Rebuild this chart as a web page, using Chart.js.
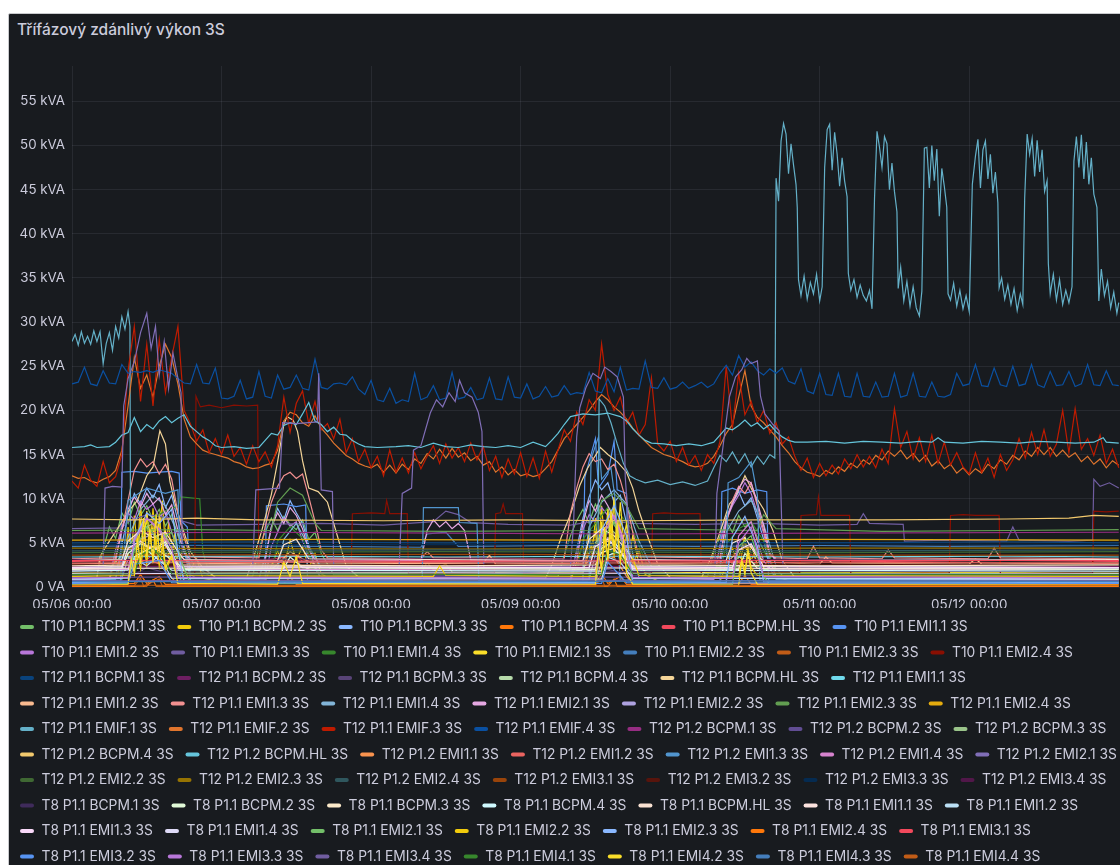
<!DOCTYPE html>
<html>
<head>
<meta charset="utf-8">
<script src="https://cdn.jsdelivr.net/npm/chart.js@4.4.1/dist/chart.umd.min.js"></script>
<style>
  html, body { margin: 0; padding: 0; width: 1120px; height: 865px; overflow: hidden; background: #fff; }
  .panel { position: absolute; left: 8px; top: 13px; width: 1150px; height: 900px; box-sizing: border-box;
           background: #181b1f; border: 1px solid #c9cacd; border-radius: 2px; }
  .title { position: absolute; left: 17px; top: 21px; font: 500 15.5px Inter, "Noto Sans", sans-serif;
           line-height: 18px; color: #ccccdc; white-space: nowrap; }
  #chart { position: absolute; left: 8px; top: 13px; }
</style>
</head>
<body>
<div class="panel"></div>
<div class="title">Třífázový zdánlivý výkon 3S</div>
<canvas id="chart" width="1112" height="860"></canvas>
<script>
// x values are hours from 05/06 00:00, y values are kVA

const names = [
  'T10 P1.1 BCPM.1 3S', 'T10 P1.1 BCPM.2 3S', 'T10 P1.1 BCPM.3 3S', 'T10 P1.1 BCPM.4 3S', 'T10 P1.1 BCPM.HL 3S',
  'T10 P1.1 EMI1.1 3S', 'T10 P1.1 EMI1.2 3S', 'T10 P1.1 EMI1.3 3S', 'T10 P1.1 EMI1.4 3S', 'T10 P1.1 EMI2.1 3S',
  'T10 P1.1 EMI2.2 3S', 'T10 P1.1 EMI2.3 3S', 'T10 P1.1 EMI2.4 3S',
  'T12 P1.1 BCPM.1 3S', 'T12 P1.1 BCPM.2 3S', 'T12 P1.1 BCPM.3 3S', 'T12 P1.1 BCPM.4 3S', 'T12 P1.1 BCPM.HL 3S',
  'T12 P1.1 EMI1.1 3S', 'T12 P1.1 EMI1.2 3S', 'T12 P1.1 EMI1.3 3S', 'T12 P1.1 EMI1.4 3S', 'T12 P1.1 EMI2.1 3S',
  'T12 P1.1 EMI2.2 3S', 'T12 P1.1 EMI2.3 3S', 'T12 P1.1 EMI2.4 3S', 'T12 P1.1 EMIF.1 3S', 'T12 P1.1 EMIF.2 3S',
  'T12 P1.1 EMIF.3 3S', 'T12 P1.1 EMIF.4 3S',
  'T12 P1.2 BCPM.1 3S', 'T12 P1.2 BCPM.2 3S', 'T12 P1.2 BCPM.3 3S', 'T12 P1.2 BCPM.4 3S', 'T12 P1.2 BCPM.HL 3S',
  'T12 P1.2 EMI1.1 3S', 'T12 P1.2 EMI1.2 3S', 'T12 P1.2 EMI1.3 3S', 'T12 P1.2 EMI1.4 3S', 'T12 P1.2 EMI2.1 3S',
  'T12 P1.2 EMI2.2 3S', 'T12 P1.2 EMI2.3 3S', 'T12 P1.2 EMI2.4 3S', 'T12 P1.2 EMI3.1 3S', 'T12 P1.2 EMI3.2 3S',
  'T12 P1.2 EMI3.3 3S', 'T12 P1.2 EMI3.4 3S',
  'T8 P1.1 BCPM.1 3S', 'T8 P1.1 BCPM.2 3S', 'T8 P1.1 BCPM.3 3S', 'T8 P1.1 BCPM.4 3S', 'T8 P1.1 BCPM.HL 3S',
  'T8 P1.1 EMI1.1 3S', 'T8 P1.1 EMI1.2 3S', 'T8 P1.1 EMI1.3 3S', 'T8 P1.1 EMI1.4 3S', 'T8 P1.1 EMI2.1 3S',
  'T8 P1.1 EMI2.2 3S', 'T8 P1.1 EMI2.3 3S', 'T8 P1.1 EMI2.4 3S', 'T8 P1.1 EMI3.1 3S', 'T8 P1.1 EMI3.2 3S',
  'T8 P1.1 EMI3.3 3S', 'T8 P1.1 EMI3.4 3S', 'T8 P1.1 EMI4.1 3S', 'T8 P1.1 EMI4.2 3S', 'T8 P1.1 EMI4.3 3S',
  'T8 P1.1 EMI4.4 3S'
];

// grafana classic palette, repeats after 56 series
const palette = [
  '#73BF69', '#F2CC0C', '#8AB8FF', '#FF780A', '#F2495C', '#5794F2', '#B877D9', '#705DA0', '#37872D', '#FADE2A',
  '#447EBC', '#C15C17', '#890F02', '#0A437C', '#6D1F62', '#584477', '#B7DBAB', '#F4D598', '#70DBED', '#F9BA8F',
  '#F29191', '#82B5D8', '#E5A8E2', '#AEA2E0', '#629E51', '#E5AC0E', '#64B0C8', '#E0752D', '#BF1B00', '#0A50A1',
  '#962D82', '#614D93', '#9AC48A', '#F2C96D', '#65C5DB', '#F9934E', '#EA6460', '#5195CE', '#D683CE', '#806EB7',
  '#3F6833', '#967302', '#2F575E', '#99440A', '#58140C', '#052B51', '#511749', '#3F2B5B', '#E0F9D7', '#FCEACA',
  '#CFFAFF', '#F9E2D2', '#FCE2DE', '#BADFF4', '#F9D9F9', '#DEDAF7'
];

const dayTicks = [0, 24, 48, 72, 96, 120, 144];
const dayLabels = ['05/06 00:00', '05/07 00:00', '05/08 00:00', '05/09 00:00', '05/10 00:00', '05/11 00:00', '05/12 00:00'];
const kvaTicks = [0, 5, 10, 15, 20, 25, 30, 35, 40, 45, 50, 55];

// ---- T10 P1.1 ----  (flat [hour, kVA, hour, kVA, ...])
const t10_bcpm1 = [0,1.2, 4,1.3, 5,4.2, 6,6.8, 7,5.5, 8,8.4, 9,7.2, 10,9.6, 11,8.1, 12,9.2, 13,7.6, 14,8.8, 15,6.9, 16,8.2, 17,5.8, 18,4.1, 20,2.2, 22,1.3, 29,1.2, 30,4.5, 31,6.2, 32,7.8, 33,6.4, 34,8.0, 35,7.1, 36,6.5, 37,7.6, 38,5.4, 39,6.2, 40,3.8, 42,1.4, 78,1.2, 79,3.6, 80,5.8, 81,7.5, 82,8.8, 83,7.2, 84,9.4, 85,8.1, 86,8.9, 87,7.0, 88,6.2, 89,4.5, 91,2.0, 93,1.3, 102,1.2, 103,3.9, 104,5.7, 105,7.4, 106,6.2, 107,8.1, 108,6.8, 109,7.3, 110,5.6, 111,4.2, 112,2.8, 114,1.3, 168,1.2];
const t10_bcpm2 = [0,0.6, 6,0.7, 7,3.5, 7.5,1.8, 8,5.2, 8.5,2.6, 9,6.8, 9.5,3.4, 10,8.1, 10.5,4.2, 11,9.4, 11.5,5.0, 12,7.6, 12.5,3.8, 13,8.9, 13.5,4.6, 14,6.2, 14.5,9.8, 15,4.4, 15.5,7.2, 16,3.6, 16.5,6.0, 17,2.8, 18,4.6, 19,1.9, 20,3.2, 21,1.0, 23,0.7, 31,0.6, 32,2.4, 33,4.1, 34,2.2, 35,5.3, 36,3.0, 37,4.6, 38,2.1, 39,3.8, 40,1.5, 42,0.7, 80,0.6, 81,2.8, 82,4.9, 82.5,2.6, 83,6.4, 83.5,3.5, 84,7.8, 84.5,4.1, 85,9.2, 85.5,5.0, 86,8.0, 86.5,4.4, 87,10.1, 87.5,5.6, 88,7.4, 88.5,3.2, 89,6.1, 90,2.5, 91,4.2, 92,1.4, 94,0.7, 104,0.6, 105,2.6, 106,4.4, 107,2.3, 108,5.2, 109,3.0, 110,4.6, 111,2.2, 112,3.4, 113,1.2, 115,0.7, 168,0.6];
const t10_bcpm3 = [0,0.8, 7,0.9, 8,4.8, 9,8.2, 10,10.6, 11,9.4, 12,11.2, 13,10.1, 14,11.6, 15,9.0, 16,10.4, 17,7.5, 18,4.2, 19,1.0, 30,0.9, 31,3.5, 32,6.8, 33,8.9, 34,7.6, 35,9.8, 36,8.4, 37,7.2, 38,4.8, 39,2.2, 40,0.9, 80,0.8, 81,4.2, 82,7.8, 83,10.2, 84,12.1, 85,11.0, 86,11.8, 87,9.6, 88,10.4, 89,7.2, 90,3.8, 91,1.0, 103,0.9, 104,4.6, 105,7.9, 106,9.5, 107,10.8, 108,9.2, 109,10.1, 110,7.8, 111,5.4, 112,2.1, 113,0.9, 168,0.8];
const t10_bcpm4 = [0,0.3, 10,0.4, 11,1.4, 12,0.4, 14,1.2, 15,0.3, 34,0.4, 35,1.1, 36,0.3, 60,0.3, 84,0.4, 85,1.5, 86,0.4, 88,1.2, 89,0.3, 107,0.4, 108,1.3, 109,0.3, 168,0.3];
const t10_bcpmHL = [0,2.9, 12,3.0, 13,3.8, 14,3.0, 30,2.9, 36,3.6, 37,2.9, 60,3.0, 84,2.9, 85,4.1, 86,3.0, 108,2.9, 109,3.7, 110,3.0, 130,2.9, 150,3.0, 168,2.9];
const t10_emi11 = [0,0.6, 7.8,0.7, 8,13.0, 10,13.1, 12,12.9, 14,13.0, 16,13.1, 17.2,12.9, 17.5,7.5, 18.5,6.8, 19,0.7, 31,0.6, 31.2,9.2, 34,9.4, 36,9.1, 37.5,9.3, 37.8,0.7, 82,0.6, 82.3,12.4, 84,16.8, 84.5,11.2, 86,12.8, 87,16.5, 87.5,11.0, 89,10.6, 89.3,0.7, 104,0.6, 104.3,10.8, 106,11.2, 108,10.6, 110,11.0, 111.5,10.8, 111.8,0.7, 168,0.6];
const t10_emi12 = [0,0.9, 6,1.0, 7,4.2, 8,6.8, 9,8.4, 10,7.6, 11,9.7, 12,8.8, 13,9.4, 14,7.9, 15,8.6, 16,6.2, 17,4.0, 18,1.8, 20,1.0, 31,0.9, 32,4.6, 33,6.2, 34,7.8, 35,6.9, 36,7.4, 37,5.2, 38,3.6, 40,1.0, 80,0.9, 81,4.0, 82,6.5, 83,8.2, 84,7.4, 85,9.0, 86,8.1, 87,7.5, 88,5.6, 89,3.2, 90,1.0, 103,0.9, 104,4.8, 105,7.6, 106,9.2, 107,10.4, 108,11.8, 109,10.6, 110,8.4, 111,6.1, 112,3.0, 113,1.0, 168,0.9];
const t10_emi13 = [0,6.6, 8,6.7, 9,7.4, 12,8.2, 16,7.8, 20,7.0, 30,7.1, 40,7.2, 50,7.0, 58,7.4, 60,8.6, 62,8.2, 64,7.3, 70,7.1, 80,7.0, 85,7.6, 90,7.2, 100,7.1, 110,7.2, 120,7.0, 126,7.1, 127,8.3, 128,7.2, 133.4,7.1, 133.6,5.2, 140,5.3, 150,5.2, 151,6.8, 152,5.3, 160,5.2, 163.8,5.3, 164,12.2, 165,11.4, 166.5,11.8, 168,11.2];
const t10_emi14 = [0,1.5, 8,1.6, 9,4.5, 11,6.2, 13,7.8, 15,8.6, 17,9.2, 17.5,10.2, 20.5,10.0, 21,4.0, 22,1.6, 32,1.5, 33,5.2, 35,6.8, 37,5.5, 39,2.0, 40,1.5, 81,1.6, 82,5.4, 84,7.2, 86,9.0, 88,8.2, 90,6.4, 92,3.0, 93,1.6, 104,1.5, 105,4.8, 107,6.6, 109,7.4, 111,5.2, 113,1.6, 168,1.5];
const t10_emi21 = [0,1.6, 8,1.7, 9,3.8, 9.5,2.4, 10,5.6, 10.5,3.2, 11,7.4, 11.5,4.6, 12,8.6, 12.5,5.2, 13,6.8, 13.5,3.9, 14,7.9, 14.5,4.8, 15,6.4, 15.5,3.4, 16,5.2, 17,2.6, 18,1.7, 56,1.6, 57,2.8, 58,1.9, 60,2.6, 61,1.7, 82,1.6, 83,3.9, 84,6.2, 84.5,3.5, 85,7.4, 85.5,4.2, 86,8.8, 86.5,5.0, 87,10.2, 87.5,4.6, 88,9.6, 88.5,5.4, 89,7.2, 89.5,3.6, 90,5.8, 91,2.6, 92,1.7, 106,1.6, 107,3.4, 108,5.6, 108.5,2.8, 109,4.8, 110,2.5, 111,1.7, 168,1.6];
const t10_emi22 = [0,4.6, 20,4.7, 40,4.6, 56,4.5, 57,6.0, 60,6.2, 62,4.6, 80,4.7, 100,4.6, 120,4.7, 140,4.6, 168,4.7];
const t10_emi23 = [0,0.1, 10,0.15, 11,1.0, 11.5,0.1, 14,0.9, 14.5,0.1, 84,0.15, 85,1.1, 85.5,0.1, 168,0.1];
const t10_emi24 = [0,1.4, 19.7,1.5, 19.9,21.6, 20.6,20.4, 22,20.6, 24,20.3, 26,20.6, 28,20.5, 29.8,20.6, 30,1.5, 44.8,1.6, 45,8.3, 48,8.4, 50.2,8.3, 50.5,9.8, 51,8.3, 53.8,8.3, 54,1.5, 67.8,1.6, 68,8.3, 68.8,8.4, 69.2,9.4, 69.6,8.3, 72.3,8.3, 72.5,1.5, 93,1.6, 93.2,8.3, 95,8.4, 97,8.3, 100.8,8.3, 101,1.5, 116.8,1.6, 117,8.1, 119.5,8.2, 119.8,10.2, 120.2,8.1, 124.8,8.1, 125,1.5, 140.8,1.6, 141,8.1, 143,8.2, 145,8.1, 148.8,8.1, 149,1.5, 163.8,1.6, 164,8.6, 166,8.5, 168,8.6];

// ---- T12 P1.1 ----
const t12a_bcpm1 = [0,5.0, 30,5.1, 60,5.0, 90,5.1, 120,5.0, 150,5.1, 168,5.0];
const t12a_bcpm2 = [0,2.3, 40,2.4, 80,2.3, 120,2.4, 168,2.3];
const t12a_bcpm3 = [0,1.3, 10,1.4, 12,2.2, 16,1.4, 60,1.3, 86,2.0, 90,1.3, 168,1.3];
const t12a_bcpm4 = [0,2.0, 6,2.1, 8,3.6, 10,4.2, 12,3.4, 14,4.5, 16,3.2, 18,2.1, 32,2.0, 34,3.2, 36,2.8, 38,2.0, 82,2.1, 84,4.0, 86,3.5, 88,4.3, 90,2.2, 105,2.0, 107,3.4, 109,2.9, 111,2.0, 168,2.1];
const t12a_bcpmHL = [0,1.0, 4,1.1, 4.5,3.5, 6,5.2, 7.5,6.8, 9,8.5, 10.5,9.8, 12,12.6, 13,13.6, 14.1,17.7, 15,16.2, 15.7,12.0, 16.5,9.6, 17.5,7.2, 19,4.0, 21,2.2, 23,1.1, 28,1.0, 29,3.0, 30.5,6.5, 32,10.5, 33,14.2, 34,18.4, 34.5,19.3, 35.5,18.9, 36.2,17.6, 37,14.3, 38,11.2, 39.5,10.8, 41,9.6, 42.5,6.0, 44,2.4, 46,1.1, 76,1.0, 77,2.5, 78.5,5.6, 80,8.2, 81.5,11.5, 82.7,13.4, 84.8,15.8, 86,15.0, 87.5,14.2, 89,13.0, 90,11.2, 91,8.6, 92.5,5.5, 94,2.6, 96,1.1, 101,1.0, 102.5,3.2, 104,6.2, 105.5,9.4, 106.5,10.2, 108,12.6, 109.5,10.5, 111,8.8, 112.5,6.4, 114,3.0, 116,1.1, 168,1.0];
const t12a_emi11 = [0,3.4, 30,3.5, 60,3.4, 90,3.5, 120,3.4, 150,3.5, 168,3.4];
const t12a_emi12 = [0,2.6, 8,2.7, 9,4.2, 11,5.1, 13,4.4, 15,5.3, 17,3.6, 19,2.7, 33,2.6, 35,4.0, 37,3.2, 39,2.6, 66,2.7, 67,3.6, 68,2.6, 82,2.7, 84,4.8, 86,5.2, 88,4.1, 90,2.7, 105,2.6, 107,4.2, 109,4.6, 111,2.8, 120,2.6, 121,3.4, 122,2.7, 144,2.6, 145,3.2, 146,2.6, 168,2.7];
const t12a_emi13 = [0,3.2, 7,3.3, 8,6.5, 9,9.8, 10,13.2, 11,14.5, 12,13.6, 13,14.2, 14,12.8, 15,13.9, 16,12.2, 17,8.4, 18,5.6, 19,3.4, 30,3.3, 31,6.8, 32,9.6, 33,11.4, 34,12.6, 35,13.0, 36,12.3, 37,12.8, 38,10.2, 39,7.4, 40,4.2, 41,3.3, 56,3.2, 57,4.0, 58,3.3, 79,3.2, 80,8.4, 81,11.2, 82,13.6, 83,15.1, 84,14.2, 85,14.5, 86,13.3, 87,13.9, 88,12.1, 89,9.6, 90,6.2, 91,3.4, 104,3.3, 105,7.2, 106,9.8, 107,11.4, 108,10.6, 109,11.8, 110,9.2, 111,6.4, 112,3.6, 113,3.3, 118,3.2, 119,4.6, 120,3.3, 130,3.2, 131,4.2, 132,3.3, 147,3.2, 148,4.4, 149,3.3, 168,3.2];
const t12a_emi14 = [0,2.1, 8,2.2, 9,5.6, 11,8.8, 13,10.4, 15,9.2, 17,6.0, 19,2.3, 33,2.1, 34,5.4, 36,7.2, 38,4.6, 40,2.2, 82,2.1, 83,6.8, 85,9.6, 87,11.0, 89,9.4, 91,5.2, 93,2.3, 104,2.2, 105,6.2, 107,8.6, 109,9.8, 111,7.1, 113,2.4, 168,2.1];
const t12a_emi21 = [0,3.0, 7,3.1, 8,6.4, 9,8.8, 10,10.2, 11,9.1, 12,10.6, 13,9.4, 14,10.1, 15,8.2, 16,9.3, 17,6.4, 18,3.8, 19,3.1, 31,3.0, 32,6.8, 33,8.4, 34,7.2, 35,9.0, 36,8.1, 37,6.6, 38,4.2, 39,3.1, 56,3.0, 57,6.4, 58,7.6, 59,6.8, 60,7.4, 61,6.6, 62,7.2, 63,6.4, 64,3.1, 81,3.0, 82,7.2, 83,9.8, 84,8.6, 85,10.4, 86,9.2, 87,7.8, 88,6.4, 89,4.0, 90,3.1, 104,3.0, 105,7.6, 106,9.4, 107,11.2, 108,12.2, 109,11.8, 110,9.6, 111,7.0, 112,3.8, 113,3.1, 168,3.0];
const t12a_emi22 = [0,0.9, 8,1.0, 9,3.2, 11,5.4, 13,6.0, 15,4.8, 17,2.4, 18,1.0, 83,0.9, 84,3.6, 86,5.6, 88,4.4, 90,1.0, 168,0.9];
const t12a_emi23 = [0,6.4, 20,6.5, 32,6.4, 33,9.6, 35,11.2, 37,10.4, 39,7.2, 40,6.4, 60,6.3, 84,6.4, 85,9.8, 87,10.6, 89,9.2, 91,6.6, 110,6.4, 111,8.2, 113,6.6, 130,6.3, 150,6.4, 168,6.5];
const t12a_emi24 = [0,5.3, 40,5.4, 80,5.3, 120,5.4, 168,5.3];
const t12a_emif1 = [0,27.8, 0.5,28.6, 1,27.4, 1.5,28.9, 2,27.6, 2.5,28.4, 3,27.5, 3.5,29.0, 4,27.8, 4.5,28.9, 5,25.3, 5.5,27.6, 6,28.8, 6.5,26.8, 7,29.5, 7.5,28.2, 8,30.6, 8.5,29.2, 9,31.2, 9.3,29.5, 9.4,2.8, 30,2.9, 60,2.8, 84.4,2.9, 84.6,21.3, 85.5,20.5, 86.5,18.6, 87.5,16.2, 88.5,14.0, 89.5,12.6, 90.5,12.2, 92,11.8, 94,12.1, 96,11.6, 98,11.9, 100,11.5, 102,12.0, 103,13.5, 104,14.9, 105,14.2, 106,15.3, 107,14.0, 108,15.1, 109,13.6, 110,14.8, 111,13.9, 112,15.0, 112.8,14.6, 113.0,46.3, 113.4,43.7, 113.8,50.5, 114.2,52.5, 114.6,51.3, 115,46.8, 115.4,50.2, 115.8,47.8, 116.2,45.6, 116.4,43.0, 116.6,34.8, 117,33.0, 117.5,35.2, 118,32.6, 118.5,34.5, 119,33.2, 119.5,35.4, 120,32.4, 120.4,34.0, 120.8,47.5, 121.2,51.8, 121.6,52.4, 122,47.2, 122.4,51.5, 122.8,49.0, 123.2,45.4, 123.6,48.6, 124,46.0, 124.4,44.2, 124.6,35.5, 125,33.6, 125.5,34.8, 126,32.8, 126.5,34.2, 127,33.0, 127.5,32.4, 128,33.6, 128.4,31.5, 128.8,44.0, 129.2,51.6, 129.6,49.8, 130,47.5, 130.4,51.0, 130.8,50.2, 131.2,45.0, 131.6,48.0, 132,44.8, 132.4,42.5, 132.6,33.8, 133,36.2, 133.5,32.4, 134,34.6, 134.5,31.8, 135,34.0, 135.5,31.6, 136,30.7, 136.4,33.5, 136.8,49.7, 137.2,49.8, 137.6,45.2, 138,50.0, 138.4,46.0, 138.8,49.6, 139.2,42.0, 139.6,47.4, 140,45.4, 140.4,43.0, 140.6,33.2, 141,32.5, 141.5,34.4, 142,31.8, 142.5,33.6, 143,31.5, 143.5,33.0, 144,31.2, 144.5,45.6, 145,48.8, 145.4,50.7, 145.8,45.2, 146.2,49.5, 146.6,50.5, 147,46.2, 147.4,49.0, 147.8,44.6, 148.2,47.0, 148.6,43.5, 148.8,33.9, 149.2,35.0, 149.7,32.6, 150.2,34.2, 150.7,32.0, 151.2,33.8, 151.7,31.3, 152.2,33.2, 152.6,32.0, 152.9,44.0, 153.3,51.3, 153.7,49.0, 154.1,50.8, 154.5,46.5, 154.9,50.6, 155.3,47.0, 155.7,49.5, 156.1,44.8, 156.5,46.0, 156.7,36.6, 157,33.2, 157.5,35.4, 158,32.5, 158.5,34.8, 159,32.0, 159.5,33.6, 160,32.2, 160.5,34.0, 160.8,48.2, 161.2,51.0, 161.6,47.5, 162,51.2, 162.4,46.2, 162.8,50.4, 163.2,45.6, 163.6,48.6, 164,44.5, 164.5,43.0, 164.8,32.4, 165.2,36.0, 165.7,33.0, 166.2,34.6, 166.7,31.6, 167.2,33.4, 167.7,31.0, 168,32.2];
// hourly readings, hour 0..168
const t12a_emif2 = [
  12.6,12.3,12.4,12.0,11.8,12.2,12.5,13.2,15.5,20.5,26.0,22.5,24.0,21.5,25.0,27.5,26.0,23.0,19.0,17.0,16.2,15.5,15.2,15.0,
  14.8,14.6,14.2,14.0,13.6,13.4,13.5,13.8,14.0,15.5,18.8,19.8,19.5,18.6,18.2,19.4,18.0,17.2,16.3,15.6,14.9,14.5,14.0,13.7,
  13.5,13.9,13.0,13.8,12.9,13.9,13.3,14.5,14.0,15.1,14.5,15.6,14.6,15.7,14.7,15.2,14.3,14.8,13.8,14.2,13.0,13.6,12.7,13.3,
  12.6,12.8,12.5,12.7,13.4,14.2,15.5,16.8,17.6,18.4,19.2,20.0,21.0,21.8,21.2,20.4,19.8,19.0,18.0,17.2,16.5,15.8,15.4,15.0,
  14.8,14.5,14.2,13.8,13.6,13.7,14.0,14.8,16.0,17.4,18.4,21.5,24.5,20.5,19.2,18.6,17.8,17.0,16.0,15.2,14.2,13.5,13.0,12.8,
  12.5,13.2,12.8,13.6,13.1,14.0,13.5,14.4,13.9,14.9,14.4,15.4,14.8,15.5,14.5,15.1,14.2,14.9,13.7,14.3,13.4,13.9,12.9,13.5,
  12.7,13.4,12.9,13.9,13.4,14.4,13.9,14.9,14.4,15.4,14.8,15.8,15.0,15.8,14.8,15.5,14.7,15.2,14.2,14.8,13.9,14.5,13.5,14.3,
  13.8
];
const t12a_emif3 = [
  12.0,11.2,13.8,12.1,11.4,14.2,11.8,12.5,15.0,24.5,29.5,21.0,27.5,20.5,28.0,22.0,26.0,29.5,20.0,18.5,16.5,17.8,15.2,16.8,
  15.0,17.2,14.8,15.8,13.9,16.0,14.2,15.3,13.6,16.0,21.5,17.5,20.8,22.2,18.5,21.0,17.8,18.5,16.8,19.0,15.2,16.8,14.2,15.6,
  13.5,14.8,12.6,15.5,13.0,14.6,12.9,15.2,13.4,14.8,16.0,14.0,16.2,14.6,15.8,14.2,16.3,14.4,15.9,13.2,14.8,12.4,14.5,12.8,
  15.2,12.5,14.6,12.3,15.4,13.0,15.5,17.8,16.5,19.8,18.4,21.2,20.0,27.5,21.8,20.0,21.5,18.5,19.8,17.2,18.4,23.7,16.2,15.4,
  16.5,14.2,15.8,13.8,14.9,13.2,15.0,14.0,16.5,25.0,18.0,24.2,19.5,21.0,18.6,20.0,17.4,18.6,16.2,17.0,14.8,13.2,14.6,12.4,
  14.0,12.6,13.8,12.8,14.5,13.4,15.0,13.6,14.8,13.5,15.6,14.0,20.2,15.8,17.6,14.5,16.9,14.2,17.2,14.0,16.4,13.8,15.2,13.6,
  12.8,15.2,13.0,14.6,12.4,15.0,13.2,14.4,16.8,14.6,17.5,15.0,17.8,14.8,16.2,20.0,15.2,20.2,15.6,16.8,14.9,17.2,14.0,15.6,
  13.5
];
const t12a_emif4 = [
  23.0,23.2,24.9,23.0,22.8,24.5,23.1,23.0,25.2,24.2,24.4,24.3,24.5,24.3,24.6,24.4,24.2,23.6,23.1,23.0,25.2,23.1,23.0,24.8,
  21.4,21.3,21.6,23.4,21.3,21.5,24.4,21.6,21.4,24.0,22.4,22.6,24.0,22.5,22.3,25.8,22.6,22.4,23.0,23.1,22.9,23.8,22.4,21.8,
  23.4,21.2,21.0,22.5,20.8,21.2,21.0,24.2,21.2,21.5,22.8,21.2,21.4,24.3,21.3,21.5,22.6,21.2,21.4,23.7,21.3,21.2,23.8,21.5,
  21.4,23.0,21.3,21.6,22.7,21.5,21.7,22.8,21.8,22.0,21.9,24.3,22.2,22.0,23.6,22.1,24.9,22.3,22.5,22.4,25.6,22.6,22.5,23.7,
  22.4,22.6,23.2,22.5,22.8,23.2,22.6,23.0,24.2,25.1,24.0,26.2,24.9,25.5,24.5,24.0,24.7,24.2,24.8,23.3,23.0,24.7,22.2,21.9,
  24.2,21.8,21.7,24.2,21.6,21.5,24.2,21.6,21.5,23.2,21.5,21.6,24.2,21.5,21.7,24.2,21.6,21.5,23.2,21.6,21.5,21.8,24.2,22.8,
  23.0,25.2,22.8,22.7,24.8,22.9,22.7,25.0,22.8,23.0,25.2,22.9,22.6,24.4,22.8,22.9,24.4,22.7,23.0,25.2,22.9,22.8,24.5,22.9,
  22.8
];

// ---- T12 P1.2 ----
const t12b_bcpm1 = [0,6.1, 30,6.2, 60,6.1, 90,6.0, 120,6.1, 168,6.2];
const t12b_bcpm2 = [0,1.1, 50,1.2, 100,1.1, 168,1.1];
const t12b_bcpm3 = [0,2.2, 8,2.3, 9,4.6, 11,6.4, 13,7.2, 15,5.8, 17,3.2, 18,2.3, 83,2.2, 84,5.0, 86,6.8, 88,5.6, 90,2.4, 168,2.2];
const t12b_bcpm4 = [0,7.7, 10,7.6, 20,7.8, 30,7.6, 50,7.5, 70,7.6, 90,7.5, 110,7.6, 130,7.6, 150,7.7, 160,7.8, 164,8.1, 168,8.0];
const t12b_bcpmHL = [0,15.8, 2,15.9, 3,16.1, 4,15.8, 6,15.9, 7,16.4, 8,17.2, 9,17.5, 10,19.2, 11,17.6, 12,18.4, 13,17.9, 14,18.8, 15,19.3, 16,18.6, 17,19.1, 18,19.5, 19,18.2, 20,17.6, 21,17.0, 22,16.6, 23,16.0, 24,15.8, 26,15.9, 28,15.7, 30,15.8, 31,16.6, 32,17.4, 33,17.2, 34,18.3, 35,18.6, 36,18.4, 37,19.6, 38,20.9, 39,18.8, 40,18.4, 41,17.6, 42,18.1, 43,17.3, 44,17.2, 45,16.6, 46,16.2, 47,15.9, 49,15.8, 52,15.9, 54,16.0, 56,15.8, 58,16.3, 60,15.9, 62,15.8, 64,16.1, 66,15.9, 68,15.8, 70,16.0, 72,15.8, 74,16.4, 76,15.9, 77,16.6, 78,17.4, 79,18.4, 80,19.3, 82,19.6, 84,19.5, 86,19.7, 88,19.3, 89,18.8, 90,17.9, 91,17.2, 92,16.6, 93,16.3, 95,16.2, 97,16.0, 99,16.2, 101,16.0, 103,16.4, 104,17.2, 105,18.0, 106,17.8, 107,18.3, 108,18.9, 109,18.2, 110,18.6, 111,17.9, 112,18.4, 113,17.6, 114,17.0, 115,16.6, 116,16.4, 118,16.4, 121,16.5, 124,16.3, 127,16.5, 130,16.4, 133,16.3, 136,16.5, 138,16.4, 139,16.9, 140,16.4, 143,16.3, 146,16.5, 149,16.4, 152,16.3, 155,16.5, 158,16.4, 161,16.3, 164,16.4, 165.5,16.9, 166,16.4, 168,16.3];
const t12b_emi11 = [0,0.4, 9,0.5, 10,2.4, 12,3.2, 14,2.6, 16,1.0, 17,0.4, 84,0.5, 85,2.8, 87,3.4, 89,1.2, 90,0.4, 168,0.4];
const t12b_emi12 = [0,2.7, 40,2.8, 80,2.7, 120,2.8, 168,2.7];
const t12b_emi13 = [0,0.7, 8,0.8, 9,9.8, 12,11.2, 15,10.6, 17,11.0, 17.4,0.8, 56.2,0.7, 56.4,9.0, 62,9.0, 62.2,7.3, 65,7.2, 65.3,0.7, 83,0.8, 83.3,14.5, 84.5,17.0, 85,12.2, 86.5,13.5, 87.2,9.8, 88,0.8, 105,0.7, 105.3,11.8, 107,12.4, 109,14.2, 110,10.4, 110.4,0.8, 168,0.7];
const t12b_emi14 = [0,1.9, 9,2.0, 10,5.6, 12,7.8, 14,6.4, 16,3.8, 17,2.0, 84,1.9, 85,6.2, 87,8.1, 89,4.6, 90,2.0, 106,1.9, 107,5.8, 109,7.4, 111,3.0, 112,1.9, 168,2.0];
const t12b_emi21 = [0,2.2, 5,2.3, 5.3,11.2, 6.5,11.4, 8,11.3, 8.3,20.5, 9,23.6, 10,25.5, 11,28.8, 12,31.0, 12.7,27.0, 13.4,29.5, 14,24.0, 14.8,27.8, 15.5,22.5, 16.2,26.5, 16.9,24.0, 17.5,22.0, 17.7,2.4, 22,2.2, 29,2.3, 29.5,11.0, 33.3,11.2, 33.8,18.6, 36,18.5, 39.4,18.7, 39.6,24.2, 40,11.0, 41.8,10.8, 42,2.3, 52.5,2.2, 53,10.6, 54.5,11.2, 54.8,15.5, 56,16.0, 57.5,19.7, 58.5,21.2, 59.5,20.4, 60.5,22.0, 61.5,21.0, 62.2,23.4, 63,22.0, 64.2,21.5, 65.2,19.8, 65.8,17.6, 66.1,2.2, 80,2.3, 80.5,7.2, 81,17.0, 81.5,20.3, 82.5,22.6, 83.6,24.2, 84.8,23.6, 85.5,24.9, 86.5,24.4, 87.5,23.8, 88.5,21.5, 88.8,12.4, 89.8,2.2, 103.2,2.3, 103.5,10.6, 104.5,16.0, 105.5,21.5, 106.5,23.8, 107.5,24.6, 108.3,25.9, 109,25.3, 110,25.6, 110.5,21.6, 111.2,19.6, 112.5,18.4, 113.5,17.7, 114.1,2.3, 168,2.2];
const t12b_emi22 = [0,3.9, 60,4.0, 120,3.9, 168,4.0];
const t12b_emi23 = [0,4.4, 60,4.3, 120,4.4, 168,4.4];
const t12b_emi24 = [0,4.1, 60,4.2, 120,4.1, 168,4.2];
const t12b_emi31 = [0,3.6, 60,3.7, 120,3.6, 168,3.6];
const t12b_emi32 = [0,2.5, 60,2.5, 120,2.6, 168,2.5];
const t12b_emi33 = [0,4.8, 60,4.8, 120,4.9, 168,4.8];
const t12b_emi34 = [0,3.1, 60,3.2, 120,3.1, 168,3.1];

// ---- T8 P1.1 ----
const t8_bcpm1 = [0,1.7, 60,1.7, 120,1.8, 168,1.7];
const t8_bcpm2 = [0,2.0, 8,2.1, 9,3.8, 11,4.9, 13,4.2, 15,5.1, 17,2.6, 18,2.0, 34,2.1, 35,3.4, 37,2.2, 84,2.0, 85,4.4, 87,5.2, 89,3.0, 90,2.1, 107,2.0, 108,3.8, 110,2.1, 168,2.0];
const t8_bcpm3 = [0,2.4, 10,2.5, 11,3.8, 13,4.6, 15,3.6, 17,2.5, 60,2.4, 84,2.5, 85,3.9, 87,4.4, 89,2.5, 120,2.4, 168,2.5];
const t8_bcpm4 = [0,1.8, 9,1.9, 10,3.4, 12,4.2, 14,3.0, 16,1.9, 85,1.8, 86,3.6, 88,4.0, 90,1.9, 168,1.8];
const t8_bcpmHL = [0,3.0, 8,3.1, 9,5.2, 11,6.4, 13,5.6, 15,6.2, 17,4.0, 18,3.1, 33,3.0, 34,4.8, 36,5.4, 38,3.2, 82,3.0, 83,5.4, 85,6.6, 87,5.8, 89,4.2, 90,3.1, 105,3.0, 106,5.0, 108,5.6, 110,3.4, 111,3.0, 168,3.1];
const t8_emi11 = [0,2.1, 60,2.2, 120,2.1, 168,2.2];
const t8_emi12 = [0,0.9, 9,1.0, 10,3.2, 12,2.4, 14,3.6, 16,1.0, 85,0.9, 86,3.4, 88,2.8, 90,1.0, 168,0.9];
const t8_emi13 = [0,2.2, 8,2.3, 9,4.4, 11,5.2, 13,4.1, 15,4.8, 17,2.3, 83,2.2, 84,4.6, 86,5.4, 88,4.0, 90,2.3, 106,2.2, 107,4.2, 109,4.9, 111,2.3, 168,2.2];
const t8_emi14 = [0,1.5, 60,1.6, 120,1.5, 168,1.5];
const t8_emi21 = [0,0.3, 9,0.4, 10,4.2, 12,6.8, 14,5.4, 16,6.2, 18,2.1, 19,0.4, 84,0.3, 85,5.2, 87,7.4, 89,4.0, 90,0.4, 106,0.3, 107,4.6, 109,5.8, 111,1.2, 112,0.3, 168,0.4];
const t8_emi22 = [0,1.2, 10,1.3, 10.5,3.6, 11,2.0, 11.5,4.8, 12,2.6, 12.5,6.2, 13,3.1, 13.5,5.4, 14,2.4, 14.5,4.6, 15,1.8, 16,3.4, 17,1.3, 58,1.2, 59,2.4, 60,1.3, 84,1.2, 84.5,3.8, 85,2.2, 85.5,5.6, 86,3.0, 86.5,7.2, 87,3.6, 87.5,6.4, 88,2.8, 88.5,4.8, 89,2.0, 90,3.2, 91,1.3, 107,1.2, 107.5,3.2, 108,1.8, 108.5,4.0, 109,2.2, 110,1.3, 168,1.2];
const t8_emi23 = [0,0.5, 9,0.6, 10,5.2, 12,8.4, 14,7.2, 16,8.8, 17,4.1, 18,0.6, 84,0.5, 85,6.4, 87,9.2, 89,5.8, 90,0.6, 105,0.5, 106,5.6, 108,8.0, 110,4.6, 111,0.6, 168,0.5];
const t8_emi24 = [0,0.05, 12,0.1, 13,0.8, 13.5,0.1, 86,0.1, 87,0.9, 87.5,0.1, 168,0.05];
const t8_emi31 = [0,3.0, 60,2.9, 120,3.0, 168,3.0];
const t8_emi32 = [0,0.4, 9,0.5, 10,2.6, 14,3.0, 16,0.5, 85,0.4, 86,2.8, 89,0.5, 168,0.4];
const t8_emi33 = [0,1.0, 9,1.1, 10,5.2, 12,7.8, 14,6.6, 16,4.4, 17,1.1, 84,1.0, 85,5.6, 87,8.0, 89,3.8, 90,1.1, 106,1.0, 107,5.0, 109,6.8, 111,1.2, 168,1.0];
const t8_emi34 = [0,0.7, 60,0.8, 120,0.7, 168,0.7];
const t8_emi41 = [0,1.4, 10,1.5, 11,3.6, 13,4.4, 15,2.8, 16,1.5, 85,1.4, 86,4.2, 88,3.6, 90,1.5, 168,1.4];
const t8_emi42 = [0,0.2, 9,0.3, 9.5,3.2, 10,1.5, 10.5,5.4, 11,2.6, 11.5,7.8, 12,3.4, 12.5,6.6, 13,2.8, 13.5,8.2, 14,4.0, 14.5,5.8, 15,2.2, 16,3.6, 17,0.4, 33,0.3, 34,2.8, 35,1.2, 36,3.4, 37,0.4, 84,0.3, 84.5,4.2, 85,2.0, 85.5,6.8, 86,3.2, 86.5,8.6, 87,4.4, 87.5,7.2, 88,3.0, 88.5,5.2, 89,1.6, 90,0.3, 107,0.2, 107.5,3.0, 108,1.4, 108.5,4.2, 109,1.6, 110,0.3, 168,0.2];
const t8_emi43 = [0,0.6, 60,0.6, 120,0.7, 168,0.6];
const t8_emi44 = [0,0.2, 60,0.2, 120,0.2, 168,0.2];

const pairs = flat => {
  const out = [];
  for (let i = 0; i < flat.length; i += 2) out.push({ x: flat[i], y: flat[i + 1] });
  return out;
};
const hourly = vals => vals.map((y, i) => ({ x: i, y }));

const seriesData = [
  pairs(t10_bcpm1), pairs(t10_bcpm2), pairs(t10_bcpm3), pairs(t10_bcpm4), pairs(t10_bcpmHL),
  pairs(t10_emi11), pairs(t10_emi12), pairs(t10_emi13), pairs(t10_emi14), pairs(t10_emi21),
  pairs(t10_emi22), pairs(t10_emi23), pairs(t10_emi24),
  pairs(t12a_bcpm1), pairs(t12a_bcpm2), pairs(t12a_bcpm3), pairs(t12a_bcpm4), pairs(t12a_bcpmHL),
  pairs(t12a_emi11), pairs(t12a_emi12), pairs(t12a_emi13), pairs(t12a_emi14), pairs(t12a_emi21),
  pairs(t12a_emi22), pairs(t12a_emi23), pairs(t12a_emi24), pairs(t12a_emif1), hourly(t12a_emif2),
  hourly(t12a_emif3), hourly(t12a_emif4),
  pairs(t12b_bcpm1), pairs(t12b_bcpm2), pairs(t12b_bcpm3), pairs(t12b_bcpm4), pairs(t12b_bcpmHL),
  pairs(t12b_emi11), pairs(t12b_emi12), pairs(t12b_emi13), pairs(t12b_emi14), pairs(t12b_emi21),
  pairs(t12b_emi22), pairs(t12b_emi23), pairs(t12b_emi24), pairs(t12b_emi31), pairs(t12b_emi32),
  pairs(t12b_emi33), pairs(t12b_emi34),
  pairs(t8_bcpm1), pairs(t8_bcpm2), pairs(t8_bcpm3), pairs(t8_bcpm4), pairs(t8_bcpmHL),
  pairs(t8_emi11), pairs(t8_emi12), pairs(t8_emi13), pairs(t8_emi14), pairs(t8_emi21),
  pairs(t8_emi22), pairs(t8_emi23), pairs(t8_emi24), pairs(t8_emi31), pairs(t8_emi32),
  pairs(t8_emi33), pairs(t8_emi34), pairs(t8_emi41), pairs(t8_emi42), pairs(t8_emi43),
  pairs(t8_emi44)
];

const textColor = 'rgb(204, 204, 220)';
const gridColor = 'rgba(204, 204, 220, 0.09)';
Chart.defaults.font.family = 'Inter, "Noto Sans", sans-serif';

// legend entries per row, as the panel wraps them
const legendRows = [6, 7, 6, 7, 7, 7, 7, 7, 7, 7];

// legend drawn under the x axis: short rounded colour bar, then the series name
const rowLegend = {
  id: 'rowLegend',
  afterDraw(chart) {
    const ctx = chart.ctx;
    const sets = chart.data.datasets;
    const top = chart.chartArea.bottom + 40;
    ctx.save();
    ctx.font = '13.8px Inter, "Noto Sans", sans-serif';
    ctx.textAlign = 'left';
    ctx.textBaseline = 'middle';
    let i = 0;
    legendRows.forEach((count, row) => {
      const y = top + row * 25.5;
      let x = 12;
      for (let k = 0; k < count && i < sets.length; k++, i++) {
        ctx.fillStyle = sets[i].borderColor;
        ctx.beginPath();
        if (ctx.roundRect) ctx.roundRect(x, y - 2, 14, 4, 2);
        else ctx.rect(x, y - 2, 14, 4);
        ctx.fill();
        ctx.fillStyle = textColor;
        ctx.fillText(sets[i].label, x + 21.5, y);
        x += 21.5 + ctx.measureText(sets[i].label).width + 12;
      }
    });
    ctx.restore();
  }
};

const datasets = names.map((name, i) => ({
  label: name,
  data: seriesData[i],
  borderColor: palette[i % palette.length],
  backgroundColor: palette[i % palette.length],
  borderWidth: 1.2,
  pointRadius: 0,
  tension: 0,
  fill: false,
  // later series drawn on top
  order: names.length - i
}));

new Chart(document.getElementById('chart'), {
  type: 'line',
  data: { datasets },
  plugins: [rowLegend],
  options: {
    responsive: false,
    animation: false,
    devicePixelRatio: 1,
    layout: { padding: { top: 53, left: 0, right: 0, bottom: 265 } },
    plugins: {
      tooltip: { enabled: false },
      legend: { display: false }
    },
    scales: {
      x: {
        type: 'linear',
        min: 0,
        max: 168.2,
        afterBuildTicks: scale => { scale.ticks = dayTicks.map(v => ({ value: v })); },
        afterFit: scale => { scale.height = 21; },
        grid: { color: gridColor, drawTicks: false },
        border: { display: false },
        ticks: {
          color: textColor,
          font: { size: 13.4 },
          padding: 10,
          maxRotation: 0,
          autoSkip: false,
          callback: v => dayLabels[dayTicks.indexOf(v)]
        }
      },
      y: {
        min: 0,
        max: 59,
        afterBuildTicks: scale => { scale.ticks = kvaTicks.map(v => ({ value: v })); },
        afterFit: scale => { scale.width = 64; },
        grid: { color: gridColor, drawTicks: false },
        border: { display: false },
        ticks: {
          color: textColor,
          font: { size: 13.3 },
          padding: 7,
          callback: v => (v === 0 ? '0 VA' : v + ' kVA')
        }
      }
    }
  }
});
</script>
</body>
</html>
